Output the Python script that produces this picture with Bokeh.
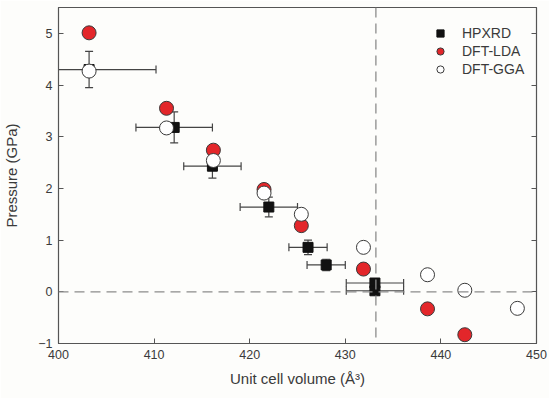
from bokeh.plotting import figure
from bokeh.models import (ColumnDataSource, Whisker, TeeHead, Span, Legend,
                          LegendItem, LinearAxis, Range1d, FixedTicker,
                          CustomJSTickFormatter)
from bokeh.embed import file_html
from bokeh.resources import INLINE

# Experimental high-pressure XRD points (volume in Å^3, pressure in GPa)
hp_vol = [403.2, 412.1, 416.1, 422.0, 426.1, 428.0, 433.1, 433.1]
hp_p = [4.30, 3.18, 2.43, 1.64, 0.86, 0.52, 0.17, 0.02]
hp_vol_err = [7.0, 4.0, 3.0, 3.0, 2.0, 2.0, 3.0, 3.0]
hp_p_err = [0.35, 0.30, 0.23, 0.19, 0.14, 0.11, 0.05, 0.05]

# DFT results
lda_vol = [403.2, 411.3, 416.2, 421.5, 425.4, 431.9, 438.6, 442.5]
lda_p = [5.01, 3.55, 2.74, 1.98, 1.28, 0.44, -0.33, -0.83]
gga_vol = [403.2, 411.3, 416.2, 421.5, 425.4, 431.9, 438.6, 442.5, 448.0]
gga_p = [4.27, 3.17, 2.54, 1.91, 1.50, 0.86, 0.33, 0.03, -0.32]

# Ambient-pressure reference volume
v0 = 433.2

x_ticks = [400, 410, 420, 430, 440, 450]
y_ticks = [-1, 0, 1, 2, 3, 4, 5]

FONT = "Liberation Sans"
TXT = "#3a3a3a"
AX = "#555555"
BG = "#fdfdfb"

p = figure(width=549, height=398, output_backend="svg", toolbar_location=None,
           x_range=Range1d(400, 450), y_range=Range1d(-1, 5.5),
           min_border_left=55, min_border_right=13, min_border_top=7,
           min_border_bottom=55)
p.background_fill_color = BG
p.border_fill_color = BG
p.outline_line_color = AX
p.outline_line_width = 1.2
p.grid.visible = False

p.xaxis.ticker = FixedTicker(ticks=x_ticks)
p.yaxis.ticker = FixedTicker(ticks=y_ticks)
p.xaxis.axis_label = "Unit cell volume (Å³)"
p.yaxis.axis_label = "Pressure (GPa)"

for ax in (p.xaxis[0], p.yaxis[0]):
    ax.axis_line_color = AX
    ax.major_tick_line_color = AX
    ax.major_tick_in = 5
    ax.major_tick_out = 0
    ax.minor_tick_line_color = None
    ax.major_label_text_font = FONT
    ax.major_label_text_font_size = "12.5px"
    ax.major_label_text_color = TXT
    ax.axis_label_text_font = FONT
    ax.axis_label_text_font_size = "15px"
    ax.axis_label_text_font_style = "normal"
    ax.axis_label_text_color = TXT
p.xaxis.major_label_standoff = 6
p.xaxis.axis_label_standoff = 8
p.yaxis.major_label_standoff = 6
p.yaxis.axis_label_standoff = 15

# Mirror ticks on the right side, without labels
right = LinearAxis(ticker=FixedTicker(ticks=y_ticks), axis_line_color=AX,
                   major_tick_line_color=AX, major_tick_in=5, major_tick_out=0,
                   minor_tick_line_color=None,
                   formatter=CustomJSTickFormatter(code="return ''"),
                   major_label_standoff=0)
p.add_layout(right, "right")

# Dashed reference lines
dash = dict(line_color="#8c8c8c", line_width=1.3, line_dash="10 6")
p.add_layout(Span(location=0, dimension="width", **dash))
p.add_layout(Span(location=v0, dimension="height", **dash))

hp = ColumnDataSource(dict(
    v=hp_vol, p=hp_p,
    vlo=[v - e for v, e in zip(hp_vol, hp_vol_err)],
    vhi=[v + e for v, e in zip(hp_vol, hp_vol_err)],
    plo=[q - e for q, e in zip(hp_p, hp_p_err)],
    phi=[q + e for q, e in zip(hp_p, hp_p_err)],
))

EB = "#444444"
p.add_layout(Whisker(source=hp, base="p", lower="vlo", upper="vhi", dimension="width",
                     line_color=EB, line_width=1.2,
                     lower_head=TeeHead(size=8, line_color=EB, line_width=1.2),
                     upper_head=TeeHead(size=8, line_color=EB, line_width=1.2)))
p.add_layout(Whisker(source=hp, base="v", lower="plo", upper="phi", dimension="height",
                     line_color=EB, line_width=1.2,
                     lower_head=TeeHead(size=8, line_color=EB, line_width=1.2),
                     upper_head=TeeHead(size=8, line_color=EB, line_width=1.2)))

r_hp = p.scatter("v", "p", source=hp, marker="square", size=10,
                 fill_color="#111111", line_color="#111111")
r_lda = p.scatter(lda_vol, lda_p, marker="circle", size=14,
                  fill_color="#e3262a", line_color="#3a3a3a", line_width=1)
r_gga = p.scatter(gga_vol, gga_p, marker="circle", size=14,
                  fill_color="white", line_color="#3a3a3a", line_width=1)

legend = Legend(items=[LegendItem(label="HPXRD", renderers=[r_hp]),
                       LegendItem(label="DFT-LDA", renderers=[r_lda]),
                       LegendItem(label="DFT-GGA", renderers=[r_gga])],
                location=(373, 265), padding=0, margin=0, spacing=0,
                glyph_width=18, glyph_height=18, label_height=18,
                label_standoff=13, border_line_color=None,
                background_fill_alpha=0, label_text_font=FONT,
                label_text_font_size="14px", label_text_color=TXT)
p.add_layout(legend)

open("out.html", "w").write(file_html(p, INLINE))
